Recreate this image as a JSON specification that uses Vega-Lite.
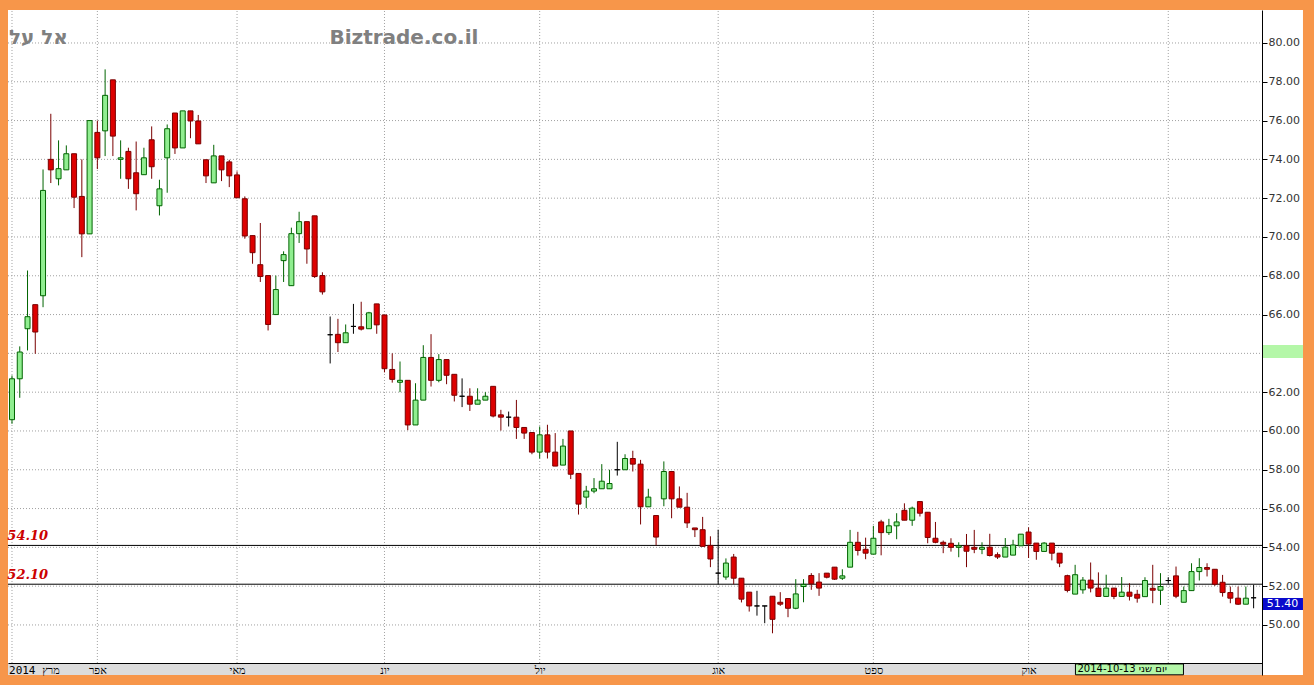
{
  "$schema": "https://vega.github.io/schema/vega-lite/v6.json",
  "width": 1254,
  "height": 665,
  "autosize": {"type": "none"},
  "padding": {"left": 8, "top": 10, "right": 52, "bottom": 10},
  "background": "#F7964A",
  "view": {"stroke": null},
  "datasets": {
    "ohlc": [
      {"i":0,"o":60.58,"h":62.86,"l":60.37,"c":62.69},
      {"i":1,"o":62.69,"h":64.36,"l":61.71,"c":64.07},
      {"i":2,"o":65.27,"h":68.27,"l":64.15,"c":65.89},
      {"i":3,"o":66.51,"h":66.51,"l":63.98,"c":65.10},
      {"i":4,"o":66.97,"h":73.48,"l":66.38,"c":72.40},
      {"i":5,"o":74.00,"h":76.35,"l":72.78,"c":73.46},
      {"i":6,"o":73.00,"h":74.98,"l":72.66,"c":73.52},
      {"i":7,"o":73.46,"h":74.72,"l":73.46,"c":74.29},
      {"i":8,"o":74.29,"h":74.29,"l":71.49,"c":72.05},
      {"i":9,"o":72.09,"h":74.00,"l":68.96,"c":70.16},
      {"i":10,"o":70.16,"h":76.00,"l":70.16,"c":76.00},
      {"i":11,"o":75.39,"h":76.00,"l":73.50,"c":74.08},
      {"i":12,"o":75.47,"h":78.64,"l":74.17,"c":77.30},
      {"i":13,"o":78.10,"h":78.10,"l":74.17,"c":75.20},
      {"i":14,"o":74.00,"h":74.98,"l":73.00,"c":74.08},
      {"i":15,"o":74.41,"h":74.60,"l":72.48,"c":73.00},
      {"i":16,"o":73.31,"h":74.92,"l":71.37,"c":72.23},
      {"i":17,"o":73.21,"h":74.60,"l":73.21,"c":74.08},
      {"i":18,"o":75.01,"h":75.70,"l":73.00,"c":73.62},
      {"i":19,"o":71.61,"h":72.95,"l":71.11,"c":72.48},
      {"i":20,"o":74.08,"h":75.80,"l":72.28,"c":75.58},
      {"i":21,"o":76.39,"h":76.39,"l":74.28,"c":74.59},
      {"i":22,"o":74.59,"h":76.50,"l":74.59,"c":76.50},
      {"i":23,"o":76.50,"h":76.50,"l":75.09,"c":75.98},
      {"i":24,"o":75.98,"h":76.29,"l":74.80,"c":74.80},
      {"i":25,"o":73.98,"h":73.98,"l":72.78,"c":73.15},
      {"i":26,"o":72.79,"h":74.75,"l":72.79,"c":74.18},
      {"i":27,"o":74.18,"h":74.18,"l":72.88,"c":73.46},
      {"i":28,"o":73.87,"h":73.98,"l":72.57,"c":73.15},
      {"i":29,"o":73.20,"h":73.38,"l":72.02,"c":72.02},
      {"i":30,"o":71.97,"h":72.09,"l":69.91,"c":70.05},
      {"i":31,"o":70.07,"h":70.07,"l":68.62,"c":69.19},
      {"i":32,"o":68.57,"h":70.72,"l":67.68,"c":67.96},
      {"i":33,"o":68.01,"h":68.01,"l":65.18,"c":65.49},
      {"i":34,"o":66.00,"h":68.01,"l":66.00,"c":67.29},
      {"i":35,"o":68.78,"h":69.26,"l":67.68,"c":69.09},
      {"i":36,"o":67.49,"h":70.48,"l":67.49,"c":70.17},
      {"i":37,"o":70.17,"h":71.30,"l":69.69,"c":70.79},
      {"i":38,"o":70.79,"h":70.79,"l":68.62,"c":69.38},
      {"i":39,"o":71.09,"h":71.09,"l":67.89,"c":67.96},
      {"i":40,"o":68.01,"h":68.18,"l":67.03,"c":67.17},
      {"i":41,"o":64.96,"h":65.90,"l":63.48,"c":64.96},
      {"i":42,"o":64.98,"h":65.78,"l":64.07,"c":64.55},
      {"i":43,"o":64.55,"h":65.49,"l":64.55,"c":65.06},
      {"i":44,"o":65.39,"h":66.55,"l":65.01,"c":65.39},
      {"i":45,"o":65.37,"h":66.66,"l":65.18,"c":65.25},
      {"i":46,"o":65.27,"h":66.14,"l":65.27,"c":66.09},
      {"i":47,"o":66.55,"h":66.55,"l":65.01,"c":65.47},
      {"i":48,"o":65.98,"h":65.98,"l":63.02,"c":63.21},
      {"i":49,"o":63.17,"h":64.00,"l":62.49,"c":62.66},
      {"i":50,"o":62.51,"h":63.58,"l":62.00,"c":62.61},
      {"i":51,"o":62.61,"h":62.61,"l":60.04,"c":60.31},
      {"i":52,"o":60.31,"h":62.46,"l":60.31,"c":61.59},
      {"i":53,"o":61.59,"h":64.42,"l":61.59,"c":63.79},
      {"i":54,"o":63.79,"h":64.99,"l":62.29,"c":62.61},
      {"i":55,"o":62.61,"h":63.96,"l":62.51,"c":63.68},
      {"i":56,"o":63.68,"h":63.68,"l":62.41,"c":62.87},
      {"i":57,"o":62.92,"h":62.92,"l":61.52,"c":61.84},
      {"i":58,"o":61.79,"h":62.71,"l":61.23,"c":61.79},
      {"i":59,"o":61.79,"h":62.20,"l":61.03,"c":61.38},
      {"i":60,"o":61.38,"h":62.20,"l":61.38,"c":61.59},
      {"i":61,"o":61.59,"h":62.00,"l":61.59,"c":61.79},
      {"i":62,"o":62.30,"h":62.30,"l":60.70,"c":60.77},
      {"i":63,"o":60.83,"h":61.09,"l":60.02,"c":60.71},
      {"i":64,"o":60.71,"h":61.00,"l":60.23,"c":60.71},
      {"i":65,"o":60.71,"h":61.60,"l":59.59,"c":60.18},
      {"i":66,"o":60.18,"h":60.18,"l":59.59,"c":59.89},
      {"i":67,"o":59.92,"h":59.92,"l":58.80,"c":58.91},
      {"i":68,"o":58.91,"h":60.23,"l":58.58,"c":59.80},
      {"i":69,"o":59.80,"h":60.32,"l":58.58,"c":58.91},
      {"i":70,"o":58.91,"h":59.89,"l":58.19,"c":58.19},
      {"i":71,"o":58.24,"h":59.59,"l":58.24,"c":59.22},
      {"i":72,"o":60.00,"h":60.00,"l":57.52,"c":57.77},
      {"i":73,"o":57.81,"h":57.81,"l":55.69,"c":56.23},
      {"i":74,"o":56.59,"h":57.17,"l":56.02,"c":56.90},
      {"i":75,"o":56.90,"h":57.57,"l":56.79,"c":57.02},
      {"i":76,"o":57.02,"h":58.29,"l":57.02,"c":57.41},
      {"i":77,"o":57.02,"h":58.00,"l":57.02,"c":57.29},
      {"i":78,"o":58.00,"h":59.44,"l":57.70,"c":58.00},
      {"i":79,"o":58.00,"h":58.80,"l":58.00,"c":58.58},
      {"i":80,"o":58.58,"h":58.98,"l":57.91,"c":58.29},
      {"i":81,"o":58.29,"h":58.51,"l":55.18,"c":56.09},
      {"i":82,"o":56.09,"h":57.02,"l":56.09,"c":56.59},
      {"i":83,"o":55.64,"h":55.64,"l":54.10,"c":54.53},
      {"i":84,"o":56.50,"h":58.43,"l":56.12,"c":57.91},
      {"i":85,"o":57.91,"h":57.91,"l":55.50,"c":56.50},
      {"i":86,"o":56.50,"h":57.14,"l":56.07,"c":56.07},
      {"i":87,"o":56.07,"h":56.81,"l":55.00,"c":55.26},
      {"i":88,"o":55.00,"h":55.00,"l":54.53,"c":54.91},
      {"i":89,"o":54.91,"h":55.57,"l":54.05,"c":54.05},
      {"i":90,"o":54.10,"h":54.57,"l":52.98,"c":53.40},
      {"i":91,"o":52.67,"h":54.91,"l":52.10,"c":52.67},
      {"i":92,"o":52.47,"h":53.43,"l":52.33,"c":53.19},
      {"i":93,"o":53.50,"h":53.66,"l":52.10,"c":52.41},
      {"i":94,"o":52.41,"h":52.41,"l":51.16,"c":51.33},
      {"i":95,"o":51.69,"h":51.69,"l":50.69,"c":50.98},
      {"i":96,"o":50.98,"h":51.76,"l":50.48,"c":50.98},
      {"i":97,"o":50.98,"h":50.98,"l":50.09,"c":50.98},
      {"i":98,"o":51.48,"h":51.48,"l":49.57,"c":50.29},
      {"i":99,"o":51.17,"h":51.69,"l":50.98,"c":51.07},
      {"i":100,"o":51.36,"h":51.36,"l":50.40,"c":50.86},
      {"i":101,"o":50.86,"h":52.36,"l":50.81,"c":51.60},
      {"i":102,"o":51.98,"h":52.36,"l":51.17,"c":52.09},
      {"i":103,"o":52.55,"h":52.67,"l":51.81,"c":52.12},
      {"i":104,"o":52.21,"h":52.67,"l":51.50,"c":51.90},
      {"i":105,"o":52.67,"h":52.67,"l":52.40,"c":52.46},
      {"i":106,"o":52.98,"h":52.98,"l":52.32,"c":52.36},
      {"i":107,"o":52.41,"h":52.87,"l":52.32,"c":52.53},
      {"i":108,"o":52.98,"h":54.90,"l":52.98,"c":54.26},
      {"i":109,"o":54.26,"h":54.80,"l":53.58,"c":53.84},
      {"i":110,"o":53.90,"h":54.50,"l":53.39,"c":53.70},
      {"i":111,"o":53.65,"h":55.11,"l":53.65,"c":54.47},
      {"i":112,"o":55.31,"h":55.42,"l":53.59,"c":54.76},
      {"i":113,"o":54.76,"h":55.47,"l":54.64,"c":55.11},
      {"i":114,"o":55.11,"h":55.76,"l":54.42,"c":55.31},
      {"i":115,"o":55.91,"h":56.27,"l":55.40,"c":55.40},
      {"i":116,"o":55.40,"h":56.10,"l":55.11,"c":56.02},
      {"i":117,"o":56.36,"h":56.36,"l":55.59,"c":55.76},
      {"i":118,"o":55.81,"h":55.81,"l":54.21,"c":54.51},
      {"i":119,"o":54.47,"h":55.31,"l":54.21,"c":54.26},
      {"i":120,"o":54.26,"h":54.35,"l":53.70,"c":54.16},
      {"i":121,"o":54.21,"h":54.47,"l":53.78,"c":54.00},
      {"i":122,"o":54.00,"h":54.26,"l":53.49,"c":54.08},
      {"i":123,"o":54.08,"h":54.69,"l":52.98,"c":53.80},
      {"i":124,"o":54.00,"h":54.90,"l":53.70,"c":53.90},
      {"i":125,"o":53.90,"h":54.26,"l":53.65,"c":54.00},
      {"i":126,"o":54.01,"h":54.70,"l":53.53,"c":53.58},
      {"i":127,"o":53.62,"h":53.74,"l":53.40,"c":53.50},
      {"i":128,"o":53.50,"h":54.48,"l":53.50,"c":54.01},
      {"i":129,"o":53.60,"h":54.39,"l":53.60,"c":54.12},
      {"i":130,"o":54.08,"h":54.68,"l":54.08,"c":54.68},
      {"i":131,"o":54.79,"h":55.03,"l":53.45,"c":54.17},
      {"i":132,"o":54.22,"h":54.22,"l":53.36,"c":53.79},
      {"i":133,"o":53.79,"h":54.27,"l":53.79,"c":54.22},
      {"i":134,"o":54.22,"h":54.22,"l":53.33,"c":53.70},
      {"i":135,"o":53.70,"h":53.70,"l":52.98,"c":53.19},
      {"i":136,"o":52.54,"h":52.59,"l":51.68,"c":51.78},
      {"i":137,"o":51.59,"h":53.10,"l":51.59,"c":52.59},
      {"i":138,"o":51.81,"h":52.47,"l":51.61,"c":52.31},
      {"i":139,"o":52.31,"h":53.22,"l":51.68,"c":51.90},
      {"i":140,"o":51.90,"h":52.71,"l":51.47,"c":51.47},
      {"i":141,"o":51.47,"h":52.59,"l":51.47,"c":51.90},
      {"i":142,"o":51.90,"h":51.90,"l":51.33,"c":51.47},
      {"i":143,"o":51.47,"h":52.47,"l":51.47,"c":51.69},
      {"i":144,"o":51.69,"h":52.15,"l":51.26,"c":51.48},
      {"i":145,"o":51.58,"h":51.81,"l":51.15,"c":51.38},
      {"i":146,"o":51.46,"h":52.46,"l":51.46,"c":52.29},
      {"i":147,"o":51.89,"h":53.10,"l":51.12,"c":51.79},
      {"i":148,"o":51.79,"h":52.67,"l":51.03,"c":51.98},
      {"i":149,"o":52.29,"h":52.46,"l":52.12,"c":52.29},
      {"i":150,"o":52.53,"h":53.01,"l":51.38,"c":51.48},
      {"i":151,"o":51.17,"h":51.98,"l":51.17,"c":51.77},
      {"i":152,"o":51.77,"h":53.18,"l":51.77,"c":52.75},
      {"i":153,"o":52.75,"h":53.44,"l":52.29,"c":52.96},
      {"i":154,"o":52.96,"h":53.18,"l":52.50,"c":52.87},
      {"i":155,"o":52.87,"h":52.87,"l":52.01,"c":52.10},
      {"i":156,"o":52.20,"h":52.58,"l":51.46,"c":51.67},
      {"i":157,"o":51.67,"h":51.98,"l":51.12,"c":51.38},
      {"i":158,"o":51.38,"h":51.98,"l":51.03,"c":51.07},
      {"i":159,"o":51.07,"h":51.98,"l":51.07,"c":51.38},
      {"i":160,"o":51.40,"h":52.07,"l":50.86,"c":51.40}
    ],
    "gridx": [{"i":0},{"i":11},{"i":29},{"i":48},{"i":68},{"i":91},{"i":111},{"i":131},{"i":149}],
    "gridy": [{"p":50},{"p":52},{"p":54},{"p":56},{"p":58},{"p":60},{"p":62},{"p":64},{"p":66},{"p":68},{"p":70},{"p":72},{"p":74},{"p":76},{"p":78},{"p":80}],
    "levels": [{"p":54.1,"label":"54.10"},{"p":52.1,"label":"52.10"}]
  },
  "layer": [
    {
      "data": {"values": [{}]},
      "mark": {"type": "rect", "fill": "white", "clip": false},
      "encoding": {
        "x": {
          "datum": -0.515, "type": "quantitative", "title": null,
          "scale": {"domain": [-0.515, 161.08], "nice": false, "zero": false, "padding": 0},
          "axis": {
            "title": null, "orient": "bottom", "offset": -12, "zindex": 1,
            "values": [-0.45, 11, 29, 48, 68, 91, 111, 131],
            "labelExpr": "datum.value < 0 ? 'מרץ 2014' : datum.value == 11 ? 'אפר' : datum.value == 29 ? 'מאי' : datum.value == 48 ? 'יונ' : datum.value == 68 ? 'יול' : datum.value == 91 ? 'אוג' : datum.value == 111 ? 'ספט' : datum.value == 131 ? 'אוק' : ''",
            "labelAlign": {"condition": {"test": "datum.value < 0", "value": "left"}, "value": "center"},
            "grid": false, "ticks": false, "domainColor": "black", "domainWidth": 1,
            "labelFont": "DejaVu Sans Mono", "labelFontSize": 11, "labelColor": "black", "labelPadding": 1,
            "labelOverlap": false, "labelBound": false, "labelFlush": false
          }
        },
        "x2": {"datum": 166.36},
        "y": {
          "datum": 47.42, "type": "quantitative", "title": null,
          "scale": {"domain": [47.42, 81.70], "nice": false, "zero": false, "padding": 0},
          "axis": {
            "title": null, "orient": "right", "zindex": 1,
            "values": [50, 52, 54, 56, 58, 60, 62, 66, 68, 70, 72, 74, 76, 78, 80],
            "format": ".2f", "grid": false,
            "domainColor": "black", "tickColor": "black", "tickSize": 5,
            "labelFont": "DejaVu Sans", "labelFontSize": 11, "labelColor": "#333333", "labelPadding": 1
          }
        },
        "y2": {"datum": 81.70}
      }
    },
    {
      "data": {"values": [{}]},
      "mark": {"type": "rect", "fill": "#DCDCDC"},
      "encoding": {
        "x": {"datum": -0.515, "type": "quantitative", "title": null},
        "x2": {"datum": 161.08},
        "y": {"datum": 47.42, "type": "quantitative", "title": null},
        "y2": {"datum": 48.04}
      }
    },
    {
      "data": {"name": "gridx"},
      "mark": {"type": "rule", "stroke": "#A0A0A0", "strokeDash": [1, 2], "strokeWidth": 1},
      "encoding": {
        "x": {"field": "i", "type": "quantitative", "title": null},
        "y": {"datum": 48.04, "type": "quantitative", "title": null},
        "y2": {"datum": 81.70}
      }
    },
    {
      "data": {"name": "gridy"},
      "mark": {"type": "rule", "stroke": "#A0A0A0", "strokeDash": [1, 2], "strokeWidth": 1},
      "encoding": {
        "y": {"field": "p", "type": "quantitative", "title": null},
        "x": {"datum": -0.515, "type": "quantitative", "title": null},
        "x2": {"datum": 161.08}
      }
    },
    {
      "data": {"name": "levels"},
      "mark": {"type": "rule", "stroke": "black", "strokeWidth": 1},
      "encoding": {
        "y": {"field": "p", "type": "quantitative", "title": null},
        "x": {"datum": -0.515, "type": "quantitative", "title": null},
        "x2": {"datum": 161.08}
      }
    },
    {
      "data": {"name": "levels"},
      "mark": {"type": "text", "align": "left", "baseline": "alphabetic", "dy": -5, "font": "DejaVu Serif", "fontStyle": "italic", "fontWeight": "bold", "fontSize": 13, "fill": "#CC0000"},
      "encoding": {
        "y": {"field": "p", "type": "quantitative", "title": null},
        "x": {"datum": -0.6, "type": "quantitative", "title": null},
        "text": {"field": "label"}
      }
    },
    {
      "data": {"name": "ohlc"},
      "mark": {"type": "rule", "strokeWidth": 1},
      "encoding": {
        "x": {"field": "i", "type": "quantitative", "title": null},
        "y": {"field": "l", "type": "quantitative", "title": null},
        "y2": {"field": "h"},
        "stroke": {"condition": [{"test": "datum.c > datum.o", "value": "#006400"}, {"test": "datum.c < datum.o", "value": "#7A0000"}], "value": "#000000"}
      }
    },
    {
      "data": {"name": "ohlc"},
      "mark": {"type": "bar", "size": 5, "strokeWidth": 1},
      "encoding": {
        "x": {"field": "i", "type": "quantitative", "title": null},
        "y": {"field": "o", "type": "quantitative", "title": null},
        "y2": {"field": "c"},
        "fill": {"condition": {"test": "datum.c >= datum.o", "value": "#90EE90"}, "value": "#DD0000"},
        "stroke": {"condition": [{"test": "datum.c > datum.o", "value": "#006400"}, {"test": "datum.c < datum.o", "value": "#7A0000"}], "value": "#000000"}
      }
    },
    {
      "data": {"values": [{"t": "אל על"}]},
      "mark": {"type": "text", "align": "left", "baseline": "alphabetic", "font": "DejaVu Sans", "fontWeight": "bold", "fontSize": 20, "fill": "#808080"},
      "encoding": {
        "x": {"datum": -0.4, "type": "quantitative", "title": null},
        "y": {"datum": 79.95, "type": "quantitative", "title": null},
        "text": {"field": "t"}
      }
    },
    {
      "data": {"values": [{"t": "Biztrade.co.il"}]},
      "mark": {"type": "text", "align": "left", "baseline": "alphabetic", "font": "DejaVu Sans", "fontWeight": "bold", "fontSize": 20, "fill": "#808080"},
      "encoding": {
        "x": {"datum": 40.9, "type": "quantitative", "title": null},
        "y": {"datum": 79.95, "type": "quantitative", "title": null},
        "text": {"field": "t"}
      }
    },
    {
      "data": {"values": [{}]},
      "mark": {"type": "rect", "fill": "#B4F7A8", "clip": false},
      "encoding": {
        "x": {"datum": 161.14, "type": "quantitative", "title": null},
        "x2": {"datum": 166.36},
        "y": {"datum": 63.76, "type": "quantitative", "title": null},
        "y2": {"datum": 64.43}
      }
    },
    {
      "data": {"values": [{}]},
      "mark": {"type": "rect", "fill": "#0A0ACC", "clip": false},
      "encoding": {
        "x": {"datum": 161.14, "type": "quantitative", "title": null},
        "x2": {"datum": 166.36},
        "y": {"datum": 50.77, "type": "quantitative", "title": null},
        "y2": {"datum": 51.39}
      }
    },
    {
      "data": {"values": [{"t": "51.40"}]},
      "mark": {"type": "text", "align": "center", "baseline": "middle", "font": "DejaVu Sans", "fontSize": 11, "fill": "white", "clip": false},
      "encoding": {
        "x": {"datum": 163.72, "type": "quantitative", "title": null},
        "y": {"datum": 51.07, "type": "quantitative", "title": null},
        "text": {"field": "t"}
      }
    },
    {
      "data": {"values": [{}]},
      "mark": {"type": "rect", "fill": "#B4F7A8", "stroke": "black", "strokeWidth": 1},
      "encoding": {
        "x": {"datum": 137.04, "type": "quantitative", "title": null},
        "x2": {"datum": 150.96},
        "y": {"datum": 47.43, "type": "quantitative", "title": null},
        "y2": {"datum": 47.99}
      }
    },
    {
      "data": {"values": [{"t": "יום שני 2014-10-13"}]},
      "mark": {"type": "text", "align": "left", "baseline": "middle", "font": "DejaVu Sans", "fontSize": 10, "fill": "black"},
      "encoding": {
        "x": {"datum": 137.3, "type": "quantitative", "title": null},
        "y": {"datum": 47.71, "type": "quantitative", "title": null},
        "text": {"field": "t"}
      }
    }
  ]
}
